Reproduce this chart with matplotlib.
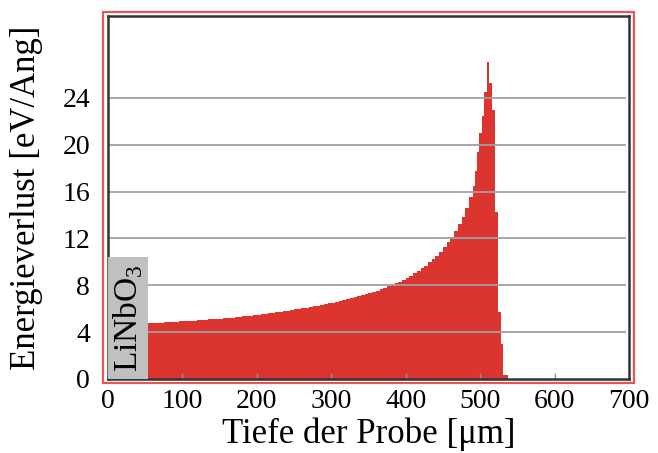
import matplotlib
matplotlib.use("Agg")
import matplotlib.pyplot as plt
from matplotlib.patches import Rectangle

plt.rcParams["font.family"] = ["Liberation Serif", "DejaVu Serif"]
plt.rcParams["mathtext.fontset"] = "custom"
plt.rcParams["mathtext.rm"] = "Liberation Serif"

# Energieverlust über der Tiefe (Histogramm, Bingrenzen in µm)
tiefe_kanten = [54, 60, 65, 70, 75, 80, 85, 90, 95, 100, 105, 110, 115, 120, 125,
                130, 135, 140, 145, 150, 155, 160, 165, 170, 175, 180, 185, 190,
                195, 200, 205, 210, 215, 220, 225, 230, 235, 240, 245, 250, 255,
                260, 265, 270, 275, 280, 285, 290, 295, 300, 305, 310, 315, 320,
                325, 330, 335, 340, 345, 350, 355, 360, 365, 370, 375, 380, 385,
                390, 395, 400, 405, 410, 415, 420, 425, 430, 435, 440, 445, 450,
                455, 460, 465, 470, 475, 480, 485, 490, 493, 496, 499, 502, 505,
                509, 512, 516, 520, 524, 528, 531, 538]
energieverlust = [4.76,
                  4.77, 4.79, 4.81, 4.83, 4.85, 4.87, 4.89, 4.91, 4.93, 4.95,
                  4.97, 4.99, 5.01, 5.03, 5.06, 5.08, 5.11, 5.13, 5.16, 5.19,
                  5.22, 5.25, 5.28, 5.31, 5.35, 5.38, 5.42, 5.46, 5.50, 5.54,
                  5.58, 5.62, 5.66, 5.71, 5.75, 5.80, 5.84, 5.89, 5.94, 5.99,
                  6.04, 6.09, 6.15, 6.20, 6.26, 6.32, 6.38, 6.45, 6.51, 6.58,
                  6.65, 6.72, 6.80, 6.88, 6.96, 7.05, 7.14, 7.23, 7.33, 7.43,
                  7.54, 7.65, 7.77, 7.90, 8.03, 8.17, 8.32, 8.48, 8.65, 8.83,
                  9.02, 9.23, 9.45, 9.69, 9.95, 10.23, 10.54, 10.88, 11.25, 11.66,
                  12.12, 12.63, 13.2, 13.85, 14.6, 15.5,
                  16.5, 17.8, 19.4, 21.0, 22.5, 24.5, 27.1, 25.3, 23.0, 14.3,
                  5.7, 3.0, 0.3]

# Schicht am Probeneingang
schicht_breite = 54
schicht_hoehe = 10.4

x_ticks = [0, 100, 200, 300, 400, 500, 600, 700]
y_ticks = [0, 4, 8, 12, 16, 20, 24]

fig = plt.figure(figsize=(6.58, 4.53), dpi=100)
ax = fig.add_axes([0.1641, 0.1634, 0.7918, 0.8013])

ax.stairs(energieverlust, tiefe_kanten, fill=True, color="#dc3530",
          linewidth=0, zorder=1)
ax.hlines(y_ticks[1:], 0, 696, colors="#a0a0a4", linewidth=1.3, zorder=2)
ax.add_patch(Rectangle((0, 0), schicht_breite, schicht_hoehe,
                       facecolor="#c0c0c0", edgecolor="none", zorder=3))
ax.text(schicht_breite / 2, 5.2, "LiNbO$_3$", rotation=90, ha="center",
        va="center", fontsize=24, zorder=4)

ax.set_xlim(0, 700)
ax.set_ylim(0, 31.0)
ax.set_xticks(x_ticks)
ax.set_yticks(y_ticks)
ax.tick_params(axis="x", direction="in", length=4, width=1, color="#909090",
               pad=7, labelsize=20)
ax.tick_params(axis="y", length=0, pad=13, labelsize=20)
for s in ax.spines.values():
    s.set_color("#333333")
    s.set_linewidth(1.8)

ax.set_xlabel("Tiefe der Probe [μm]", fontsize=25, labelpad=3)
ax.set_ylabel("Energieverlust [eV/Ang]", fontsize=25, labelpad=14)

# roter Rahmen um das Diagramm
fig.patches.append(Rectangle((0.1565, 0.1545), 0.807, 0.819, transform=fig.transFigure,
                             fill=False, edgecolor="#e85555", linewidth=1.6))

fig.savefig("out.png", dpi=100)
